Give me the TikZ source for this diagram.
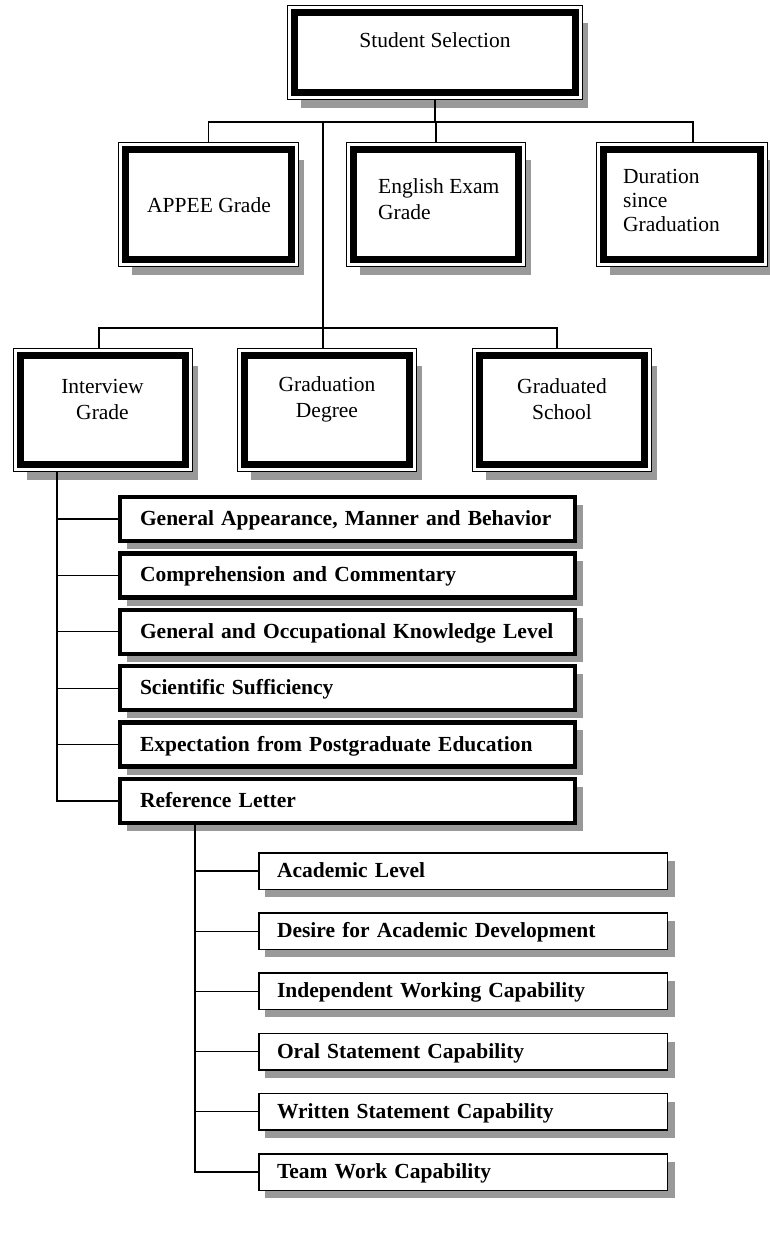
\documentclass[tikz,border=0pt]{standalone}
\usepackage{fontspec}
\setmainfont{Liberation Serif}
\usetikzlibrary{calc}
\definecolor{shadowgrey}{RGB}{153,153,153}
\pgfdeclarelayer{back}
\pgfsetlayers{back,main}
\tikzset{
  slot/.style={rectangle, inner sep=0pt, outer sep=0pt},
  lbl/.style={inner sep=0pt, font=\fontsize{21.5}{25}\selectfont},
  critbox/.style={rectangle, draw, fill=white, line width=4.3pt,
    minimum width=455pt, minimum height=44pt, inner xsep=20pt, inner ysep=0pt,
    text width=415pt, text height=15pt, text depth=2pt, align=left,
    font=\fontsize{21.5}{25}\selectfont\bfseries},
  subbox/.style={rectangle, draw, fill=white, line width=1.5pt,
    minimum width=408.5pt, minimum height=36.5pt, inner xsep=18pt, inner ysep=0pt,
    text width=372pt, text height=15pt, text depth=2pt, align=left,
    font=\fontsize{21.5}{25}\selectfont\bfseries},
  wire/.style={line width=1.3pt},
}
% framed box with thin outline, thick inner band and drop shadow
\newcommand\DoubleFrame[1]{%
  \begin{pgfonlayer}{back}
    \fill[shadowgrey] ($(#1.north west)+(14,18)$) rectangle ($(#1.south east)+(5,8)$);
    \draw[fill=white, line width=1.2pt] ($(#1.north west)+(0.6,0.6)$) rectangle ($(#1.south east)+(-0.6,-0.6)$);
    \draw[line width=7pt] ($(#1.north west)+(7.4,7.4)$) rectangle ($(#1.south east)+(-7.4,-7.4)$);
  \end{pgfonlayer}}
% drop shadows of the list boxes
\newcommand\CritShadow[1]{%
  \begin{pgfonlayer}{back}
    \fill[shadowgrey] ($(#1.north west)+(9,10)$) rectangle ($(#1.south east)+(6,6)$);
  \end{pgfonlayer}}
\newcommand\SubShadow[1]{%
  \begin{pgfonlayer}{back}
    \fill[shadowgrey] ($(#1.north west)+(7,9)$) rectangle ($(#1.south east)+(7,7)$);
  \end{pgfonlayer}}

\begin{document}
\begin{tikzpicture}[x=1pt,y=-1pt]
\useasboundingbox (0,0) rectangle (770,1236);

% root
\node[slot, minimum width=296pt, minimum height=95pt] (ss) at (435,52.5) {};
\DoubleFrame{ss}
\node[lbl, anchor=base] (ssl) at (435,48) {Student Selection};

% first row
\node[slot, minimum width=181pt, minimum height=125pt] (appee) at (208.5,204.5) {};
\node[slot, minimum width=180pt, minimum height=125pt] (eng) at (436,204.5) {};
\node[slot, minimum width=172pt, minimum height=125pt] (dur) at (682,204.5) {};
\DoubleFrame{appee}
\DoubleFrame{eng}
\DoubleFrame{dur}
\node[lbl, anchor=base] (appeel) at (209,212) {APPEE Grade};
\node[lbl, anchor=west, align=left, font=\fontsize{21.5}{26}\selectfont] (engl) at (378,199) {English Exam\\Grade};
\node[lbl, anchor=west, align=left, font=\fontsize{21.5}{24}\selectfont] (durl) at (623,200) {Duration\\since\\Graduation};

% second row
\node[slot, minimum width=180pt, minimum height=124pt] (int) at (103,410) {};
\node[slot, minimum width=180pt, minimum height=124pt] (deg) at (327,410) {};
\node[slot, minimum width=180pt, minimum height=124pt] (sch) at (562,410) {};
\DoubleFrame{int}
\DoubleFrame{deg}
\DoubleFrame{sch}
\node[lbl, align=center, font=\fontsize{21.5}{26}\selectfont] (intl) at (102.5,399) {Interview\\Grade};
\node[lbl, align=center, font=\fontsize{21.5}{26}\selectfont] (degl) at (327,399) {Graduation\\Degree};
\node[lbl, align=center, font=\fontsize{21.5}{26}\selectfont] (schl) at (562,399) {Graduated\\School};

% interview criteria
\node[critbox] (c1) at (347.5,519) {General Appearance, Manner and Behavior};
\node[critbox] (c2) at (347.5,575.4) {Comprehension and Commentary};
\node[critbox] (c3) at (347.5,631.8) {General and Occupational Knowledge Level};
\node[critbox] (c4) at (347.5,688.2) {Scientific Sufficiency};
\node[critbox] (c5) at (347.5,744.6) {Expectation from Postgraduate Education};
\node[critbox] (c6) at (347.5,801) {Reference Letter};
\foreach \n in {c1,c2,c3,c4,c5,c6} {\CritShadow{\n}}

% reference letter items
\node[subbox] (s1) at (463,871) {Academic Level};
\node[subbox] (s2) at (463,931.2) {Desire for Academic Development};
\node[subbox] (s3) at (463,991.4) {Independent Working Capability};
\node[subbox] (s4) at (463,1051.6) {Oral Statement Capability};
\node[subbox] (s5) at (463,1111.8) {Written Statement Capability};
\node[subbox] (s6) at (463,1172) {Team Work Capability};
\foreach \n in {s1,s2,s3,s4,s5,s6} {\SubShadow{\n}}

% connectors of the upper levels
\coordinate (t1) at (323,122);
\coordinate (t2) at (323,328);
\coordinate (durtop) at ($(dur.north)+(11,0)$);
\draw[wire] (ss.south) -- (ss.south |- t1);
\draw[wire] (appee.north) |- (t1);
\draw[wire] (durtop) |- (t1);
\draw[wire] (eng.north) -- (eng.north |- t1);
\draw[wire] (t1) -- (t2);
\draw[wire] ($(int.north)+(-4,0)$) |- (t2);
\draw[wire] ($(sch.north)+(-5,0)$) |- (t2);
\draw[wire] ($(deg.north)+(-4,0)$) -- (t2);

% interview criteria connectors
\coordinate (k0) at ($(int.south)+(-46,0)$);
\draw[wire] (k0) |- (c6.west);
\foreach \n in {c1,c2,c3,c4,c5} {\draw[wire] (\n.west) -- (\n.west -| k0);}

% reference letter connectors
\coordinate (m0) at ($(c6.south)+(-152.5,0)$);
\draw[wire] (m0) |- (s6.west);
\foreach \n in {s1,s2,s3,s4,s5} {\draw[wire] (\n.west) -- (\n.west -| m0);}
\end{tikzpicture}
\end{document}
